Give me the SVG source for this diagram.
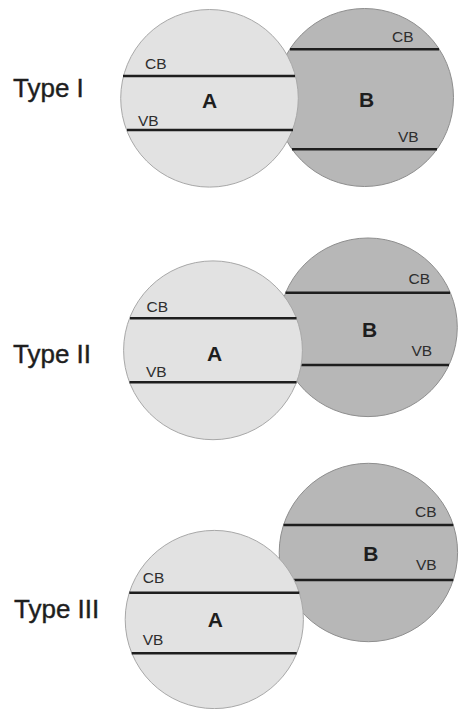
<svg xmlns="http://www.w3.org/2000/svg" width="459" height="709" viewBox="0 0 459 709">
<style>
.bg{fill:#ffffff}
.ca{fill:#e2e2e2;stroke:#a8a8a8;stroke-width:1}
.cb{fill:#b7b7b7;stroke:#8e8e8e;stroke-width:1}
.band{stroke:#1e1e1e;stroke-width:2.6;stroke-linecap:butt}
.sm{font-family:"Liberation Sans",Arial,sans-serif;font-size:15.5px;fill:#2e2e2e}
.big{font-family:"Liberation Sans",Arial,sans-serif;font-size:21px;font-weight:bold;fill:#1e1e1e;text-anchor:middle}
.type{font-family:"Liberation Sans",Arial,sans-serif;font-size:26px;fill:#1e1e1e;stroke:#1e1e1e;stroke-width:0.4}
</style>
<rect class="bg" x="0" y="0" width="459" height="709"/>

<!-- Type I -->
<text class="type" x="13" y="96.5">Type I</text>
<g id="type1-B">
  <circle class="cb" cx="364.5" cy="97.5" r="89"/>
  <line class="band" x1="290" y1="49.3" x2="439" y2="49.3"/>
  <line class="band" x1="292" y1="149.3" x2="437" y2="149.3"/>
  <text class="sm" x="392" y="41.5">CB</text>
  <text class="big" x="366.5" y="106.5">B</text>
  <text class="sm" x="398" y="142">VB</text>
</g>
<g id="type1-A">
  <circle class="ca" cx="209.5" cy="98.3" r="88.8"/>
  <line class="band" x1="123" y1="76" x2="295" y2="76"/>
  <line class="band" x1="127" y1="130" x2="293" y2="130"/>
  <text class="sm" x="145" y="68.5">CB</text>
  <text class="big" x="209.5" y="108">A</text>
  <text class="sm" x="138" y="126">VB</text>
</g>

<!-- Type II -->
<text class="type" x="13" y="363">Type II</text>
<g id="type2-B">
  <circle class="cb" cx="368" cy="327.3" r="89.3"/>
  <line class="band" x1="285.5" y1="292.7" x2="450" y2="292.7"/>
  <line class="band" x1="287" y1="365" x2="449" y2="365"/>
  <text class="sm" x="408.5" y="284">CB</text>
  <text class="big" x="369.5" y="337">B</text>
  <text class="sm" x="411.5" y="355.5">VB</text>
</g>
<g id="type2-A">
  <circle class="ca" cx="213" cy="350.3" r="89.4"/>
  <line class="band" x1="130" y1="318.3" x2="296.5" y2="318.3"/>
  <line class="band" x1="129.5" y1="382.3" x2="296.5" y2="382.3"/>
  <text class="sm" x="146.5" y="311.5">CB</text>
  <text class="big" x="214.5" y="361">A</text>
  <text class="sm" x="146" y="376.5">VB</text>
</g>

<!-- Type III -->
<text class="type" x="14" y="618">Type III</text>
<g id="type3-B">
  <circle class="cb" cx="368.4" cy="552.5" r="89.2"/>
  <line class="band" x1="283.5" y1="525" x2="453.3" y2="525"/>
  <line class="band" x1="283.5" y1="580" x2="453.3" y2="580"/>
  <text class="sm" x="415" y="516.5">CB</text>
  <text class="big" x="370.8" y="560.5">B</text>
  <text class="sm" x="416" y="570">VB</text>
</g>
<g id="type3-A">
  <circle class="ca" cx="214.3" cy="619.5" r="89.1"/>
  <line class="band" x1="129.3" y1="592.7" x2="299.3" y2="592.7"/>
  <line class="band" x1="131.7" y1="653.3" x2="296.7" y2="653.3"/>
  <text class="sm" x="142.7" y="582.5">CB</text>
  <text class="big" x="215.3" y="626.5">A</text>
  <text class="sm" x="142.7" y="644.5">VB</text>
</g>
</svg>
